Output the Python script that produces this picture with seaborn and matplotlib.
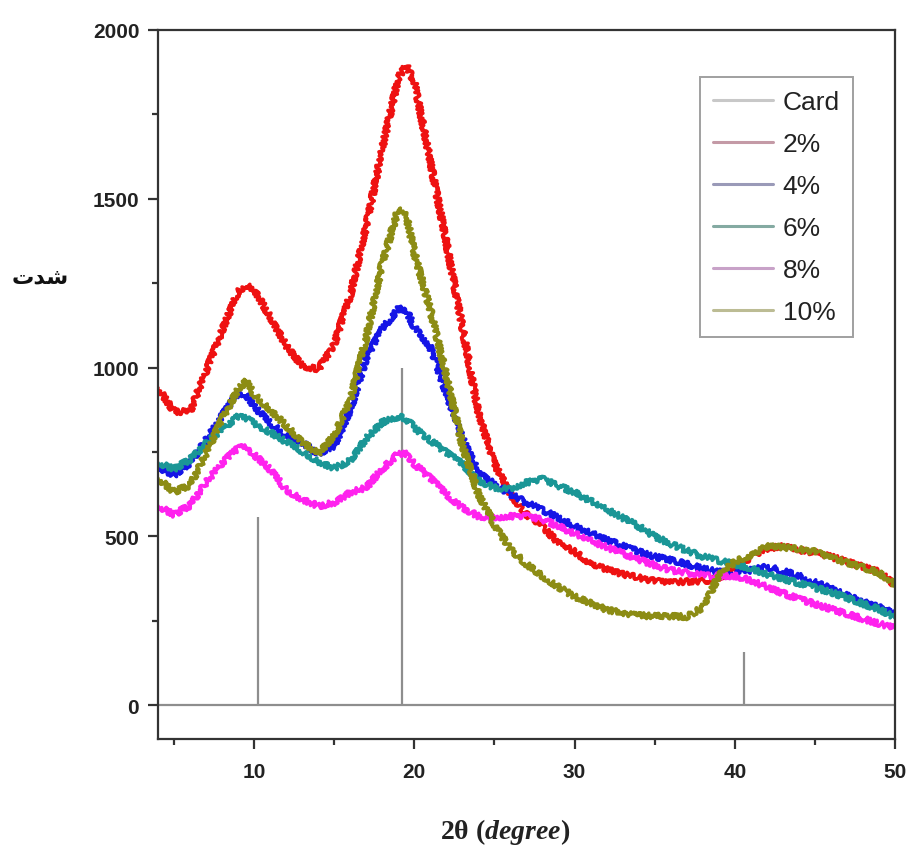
import numpy as np
import pandas as pd
import matplotlib
matplotlib.use("Agg")
import matplotlib.pyplot as plt
from matplotlib.ticker import MultipleLocator, FixedLocator
import seaborn as sns

# 2-theta grid (degrees) shared by all diffraction patterns
theta = [4, 5, 6, 7, 8, 9, 9.5, 10, 11, 12, 13, 14, 15, 16, 17, 18, 19, 19.5,
         20, 21, 22, 23, 24, 25, 26, 27, 28, 29, 30, 31, 32, 33, 34, 35, 36,
         37, 38, 38.5, 39, 40, 41, 42, 43, 44, 45, 46, 47, 48, 49, 50]

int_2 = [940, 870, 870, 990, 1110, 1225, 1245, 1232, 1150, 1065, 1005, 995, 1070,
         1215, 1420, 1650, 1860, 1895, 1845, 1610, 1370, 1120, 865, 715, 625,
         565, 530, 480, 455, 420, 402, 388, 378, 368, 365, 366, 368, 370, 378,
         400, 440, 465, 470, 460, 452, 440, 425, 410, 395, 355]
int_4 = [705, 682, 718, 785, 858, 925, 920, 885, 835, 800, 778, 745, 768, 875,
         1030, 1115, 1175, 1170, 1120, 1060, 925, 790, 688, 655, 625, 600, 578,
         555, 530, 510, 490, 472, 455, 440, 430, 418, 405, 400, 395, 392, 400,
         410, 398, 383, 365, 345, 325, 306, 290, 276]
int_6 = [718, 700, 728, 775, 818, 855, 850, 835, 808, 780, 752, 722, 702, 725,
         790, 838, 855, 848, 822, 785, 748, 715, 665, 645, 640, 660, 670, 650,
         630, 605, 580, 555, 530, 500, 478, 458, 440, 435, 428, 418, 405, 388,
         374, 362, 348, 335, 318, 300, 285, 260]
int_8 = [590, 565, 592, 660, 718, 762, 765, 742, 698, 638, 610, 590, 600, 630,
         645, 700, 745, 745, 715, 672, 625, 585, 560, 555, 560, 560, 550, 530,
         508, 488, 468, 450, 432, 415, 400, 392, 385, 383, 383, 383, 370, 350,
         332, 315, 300, 285, 270, 256, 242, 228]
int_10 = [672, 632, 652, 745, 849, 935, 960, 920, 875, 828, 780, 745, 798, 905,
          1090, 1310, 1470, 1450, 1340, 1170, 975, 770, 625, 535, 462, 418, 382,
          350, 322, 302, 283, 273, 266, 264, 264, 262, 290, 335, 385, 425, 445,
          470, 468, 462, 455, 438, 422, 408, 392, 358]

# Reference card reflections
card_pos = [10.25, 19.25, 40.55]
card_int = [557, 1000, 157]

labels = ["2%", "4%", "6%", "8%", "10%"]
colors = ["#ee1111", "#1515e6", "#1a9696", "#ff22ee", "#8c8c14"]

df = pd.DataFrame({
    "theta": theta * 5,
    "intensity": int_2 + int_4 + int_6 + int_8 + int_10,
    "sample": sum([[lab] * len(theta) for lab in labels], []),
})

sns.set_theme(style="white")
plt.rcParams["font.family"] = ["Liberation Sans", "DejaVu Sans"]
plt.rcParams["mathtext.fontset"] = "custom"
plt.rcParams["mathtext.rm"] = "Liberation Serif:bold"
plt.rcParams["mathtext.bfit"] = "Liberation Serif:italic:bold"

fig = plt.figure(figsize=(9.09, 8.54), dpi=100)
ax = fig.add_axes([158 / 909, 1 - 740 / 854, 737 / 909, 709 / 854])

card_color = "#8e8e8e"
ax.axhline(0, color=card_color, lw=1.6, zorder=1)
ax.vlines(card_pos, 0, card_int, color=card_color, lw=1.6, zorder=1)

sns.lineplot(data=df, x="theta", y="intensity", hue="sample",
             palette=dict(zip(labels, colors)), hue_order=labels,
             lw=2.6, legend=False, ax=ax, zorder=2)
for ln in ax.get_lines():
    if ln.get_color() != card_color:
        ln.set_sketch_params(scale=2.8, length=2.5, randomness=6)

ax.set_xlim(4, 50)
ax.set_ylim(-100, 2000)
ax.xaxis.set_major_locator(FixedLocator([10, 20, 30, 40, 50]))
ax.xaxis.set_minor_locator(FixedLocator([5, 15, 25, 35, 45]))
ax.yaxis.set_major_locator(MultipleLocator(500))
ax.yaxis.set_minor_locator(FixedLocator([250, 750, 1250, 1750]))

for sp in ax.spines.values():
    sp.set_visible(True)
    sp.set_color("#333333")
    sp.set_linewidth(1.6)

ax.tick_params(axis="both", which="major", direction="out", length=7.5,
               width=1.6, color="#333333", labelsize=15,
               top=False, right=False, bottom=True, left=True)
ax.tick_params(axis="both", which="minor", direction="out", length=4.5,
               width=1.6, color="#333333", top=False, right=False,
               bottom=True, left=True)
ax.tick_params(axis="x", which="major", pad=9)
ax.tick_params(axis="y", which="major", pad=6)
for t in ax.get_xticklabels() + ax.get_yticklabels():
    t.set_fontweight("bold")
    t.set_color("#222222")

ax.set_xlabel(r"2θ ($\mathbfit{degree}$)", fontfamily="Liberation Serif",
              fontweight="bold", fontsize=20, color="#222222")
ax.xaxis.set_label_coords(0.471, -0.13)
ax.xaxis.label.set_va("center")

ax.set_ylabel("\uFE95\uFEAA\uFEB7", fontfamily="DejaVu Sans", fontweight="bold",
              fontsize=16, rotation=0, color="#111111")
ax.yaxis.set_label_coords(-0.160, 0.652)
ax.yaxis.label.set_va("center")
ax.yaxis.label.set_ha("center")

# Legend with the pale handle colours of the original key
handle_colors = ["#c8c8c8", "#c49aa6", "#9a9ab8", "#84aaa2", "#c8a2c8", "#bcbc94"]
handles = [plt.Line2D([], [], color=c, lw=2.2) for c in handle_colors]
leg = ax.legend(handles, ["Card"] + labels, loc="upper right",
                bbox_to_anchor=((853 - 158) / 737, (740 - 78) / 709),
                borderaxespad=0, fontsize=19, frameon=True, fancybox=False,
                handlelength=2.3, handletextpad=0.35, labelspacing=0.68,
                borderpad=0.5)
leg.get_frame().set_edgecolor("#888888")
leg.get_frame().set_linewidth(1.4)
for txt in leg.get_texts():
    txt.set_color("#222222")

fig.savefig("out.png", dpi=100, facecolor="white")
